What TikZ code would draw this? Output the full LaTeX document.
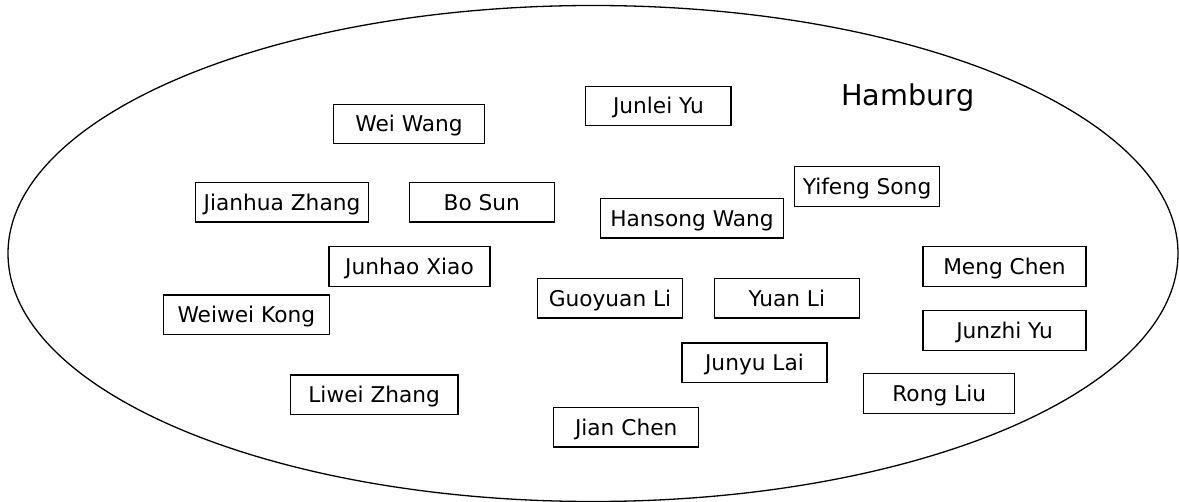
\documentclass[tikz,border=0pt]{standalone}
\usepackage{fontspec}
\setmainfont{DejaVu Sans}
\begin{document}
\begin{tikzpicture}[x=1pt,y=-1pt,
  nm/.style={draw=black, line width=1.2pt, minimum height=39.5pt, inner sep=0pt,
    font=\fontsize{21.7pt}{24pt}\selectfont, text height=15.8pt, text depth=0pt}]
\useasboundingbox (0,0) rectangle (1179,502);
\draw[line width=1.3pt] (593,253.5) ellipse [x radius=585, y radius=248];
\node[anchor=base west, inner sep=0pt, font=\fontsize{28.7pt}{32pt}\selectfont] (hh) at (841,105.7) {Hamburg};
\node[nm, minimum width=151.4pt] (ww) at (409,124) {Wei Wang};
\node[nm, minimum width=145.3pt] (jly) at (658.4,105.9) {Junlei Yu};
\node[nm, minimum width=173.4pt] (jz) at (282,202.2) {Jianhua Zhang};
\node[nm, minimum width=145pt] (bs) at (481.8,202.2) {Bo Sun};
\node[nm, minimum width=145.4pt] (ys) at (867,186.4) {Yifeng Song};
\node[nm, minimum width=183.4pt] (hw) at (692,218.3) {Hansong Wang};
\node[nm, minimum width=161pt] (jx) at (409.5,266.4) {Junhao Xiao};
\node[nm, minimum width=163pt] (mc) at (1004.5,266.4) {Meng Chen};
\node[nm, minimum width=145.4pt] (gl) at (610,298.3) {Guoyuan Li};
\node[nm, minimum width=145pt] (yl) at (786.8,298.3) {Yuan Li};
\node[nm, minimum width=166pt] (wk) at (246.3,314.8) {Weiwei Kong};
\node[nm, minimum width=163pt] (jzy) at (1004.5,330.4) {Junzhi Yu};
\node[nm, minimum width=145pt] (jyl) at (754.5,362.7) {Junyu Lai};
\node[nm, minimum width=167.7pt] (lz) at (374.2,394.8) {Liwei Zhang};
\node[nm, minimum width=151pt] (rl) at (939.2,393.5) {Rong Liu};
\node[nm, minimum width=145pt] (jc) at (626.2,427.2) {Jian Chen};
\end{tikzpicture}
\end{document}
